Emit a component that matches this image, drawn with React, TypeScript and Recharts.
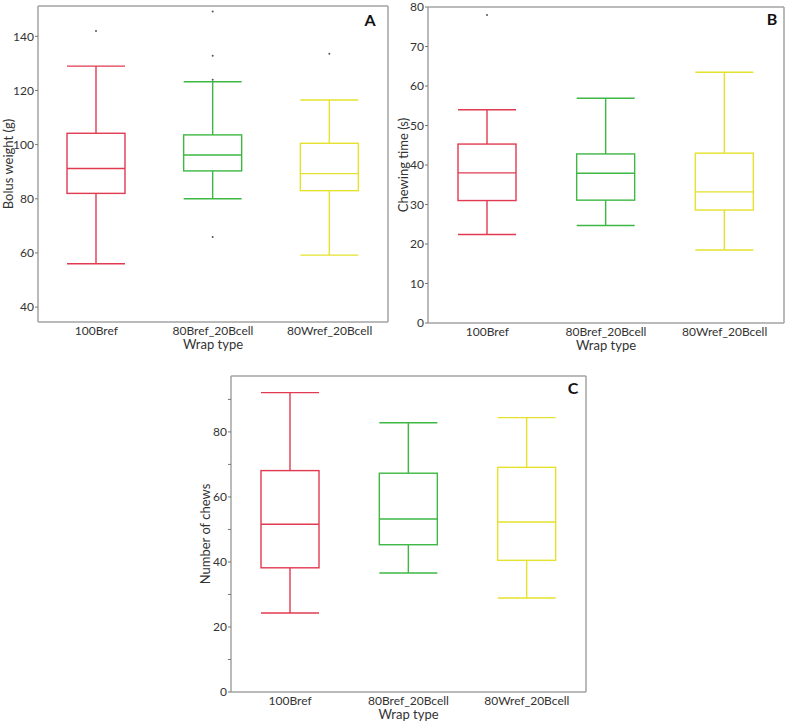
import React from 'react';
import { ComposedChart, Bar, XAxis, YAxis, CartesianGrid } from 'recharts';

// Wrap types on the x axis and their box colours
const categories = ['100Bref', '80Bref_20Bcell', '80Wref_20Bcell'];
const boxColors = ['#e23a50', '#3cb843', '#e4e22c'];

// A: bolus weight (g)
const weightLow = [56, 80, 59.2];
const weightQ1 = [82, 90.3, 83];
const weightMedian = [91.2, 96.2, 89.3];
const weightQ3 = [104.2, 103.6, 100.5];
const weightHigh = [129, 123.2, 116.5];
const weightOutliers = [[142], [149.2, 132.8, 124, 65.9], [133.6]];
const weightTicks = [40, 60, 80, 100, 120, 140];

// B: chewing time (s)
const timeLow = [22.4, 24.7, 18.5];
const timeQ1 = [31, 31.1, 28.6];
const timeMedian = [38, 37.9, 33.2];
const timeQ3 = [45.3, 42.8, 43];
const timeHigh = [54, 56.9, 63.5];
const timeOutliers = [[78], [], []];
const timeTicks = [0, 10, 20, 30, 40, 50, 60, 70, 80];

// C: number of chews
const chewsLow = [24.3, 36.6, 28.9];
const chewsQ1 = [38.2, 45.3, 40.5];
const chewsMedian = [51.6, 53.2, 52.3];
const chewsQ3 = [68.1, 67.3, 69.1];
const chewsHigh = [92.1, 82.8, 84.4];
const chewsOutliers = [[], [], []];
const chewsTicks = [0, 10, 20, 30, 40, 50, 60, 70, 80, 90];
const chewsLabelled = [0, 20, 40, 60, 80];

const FONT = 'Lato, "Noto Sans", sans-serif';
const FRAME = '#a3a3a3';

type Row = {
  name: string;
  range: [number, number];
  q1: number;
  median: number;
  q3: number;
  outliers: number[];
  color: string;
};

const buildRows = (
  low: number[],
  q1: number[],
  median: number[],
  q3: number[],
  high: number[],
  outliers: number[][]
): Row[] =>
  categories.map((name, i) => ({
    name,
    range: [low[i], high[i]],
    q1: q1[i],
    median: median[i],
    q3: q3[i],
    outliers: outliers[i],
    color: boxColors[i],
  }));

// Whisker-to-whisker range bar, with the box, median and outliers drawn inside it
const BoxShape = (props: any) => {
  const { x, y, width, height, payload } = props;
  if (!payload) return null;
  const [lo, hi] = payload.range;
  const top = Math.min(y, y + height);
  const bottom = Math.max(y, y + height);
  const toY = (v: number) => bottom - ((v - lo) / (hi - lo)) * (bottom - top);
  const cx = x + width / 2;
  const c = payload.color;
  const sw = 1.4;
  return (
    <g>
      <line x1={cx} x2={cx} y1={toY(hi)} y2={toY(payload.q3)} stroke={c} strokeWidth={sw} />
      <line x1={cx} x2={cx} y1={toY(payload.q1)} y2={toY(lo)} stroke={c} strokeWidth={sw} />
      <line x1={x} x2={x + width} y1={toY(hi)} y2={toY(hi)} stroke={c} strokeWidth={sw} />
      <line x1={x} x2={x + width} y1={toY(lo)} y2={toY(lo)} stroke={c} strokeWidth={sw} />
      <rect
        x={x}
        y={toY(payload.q3)}
        width={width}
        height={toY(payload.q1) - toY(payload.q3)}
        fill="none"
        stroke={c}
        strokeWidth={sw}
      />
      <line x1={x} x2={x + width} y1={toY(payload.median)} y2={toY(payload.median)} stroke={c} strokeWidth={sw} />
      {payload.outliers.map((v: number, k: number) => (
        <circle key={k} cx={cx} cy={toY(v)} r={1} fill="#555" />
      ))}
    </g>
  );
};

type PanelProps = {
  left: number;
  top: number;
  width: number;
  height: number;
  margin: { top: number; right: number; bottom: number; left: number };
  axisWidth: number;
  domain: [number, number];
  ticks: number[];
  labelled?: number[];
  yLabel: string;
  labelOffset: number;
  letter: string;
  letterPos: { x: number; y: number };
  rows: Row[];
};

function BoxPanel(p: PanelProps) {
  const tickStyle = { fontSize: 12, fill: '#333', fontFamily: FONT };
  const titleStyle = { fontSize: 13, fill: '#333', fontFamily: FONT };
  return (
    <div style={{ position: 'absolute', left: p.left, top: p.top, width: p.width, height: p.height }}>
      <ComposedChart width={p.width} height={p.height} data={p.rows} margin={p.margin}>
        {/* top and right edges of the plot frame */}
        <CartesianGrid
          stroke={FRAME}
          strokeWidth={1.5}
          horizontalCoordinatesGenerator={({ offset }: any) => [offset.top]}
          verticalCoordinatesGenerator={({ offset }: any) => [offset.left + offset.width]}
        />
        <XAxis
          dataKey="name"
          type="category"
          tickLine={false}
          tickSize={0}
          tickMargin={4}
          tick={tickStyle}
          axisLine={{ stroke: FRAME, strokeWidth: 1.5 }}
          height={p.height - p.margin.top - p.margin.bottom - 316}
          label={{ value: 'Wrap type', position: 'insideTop', offset: 18, style: titleStyle }}
        />
        <YAxis
          type="number"
          domain={p.domain}
          ticks={p.ticks}
          interval={0}
          allowDataOverflow
          width={p.axisWidth}
          tickSize={3}
          tickMargin={1}
          tick={tickStyle}
          tickFormatter={(v: number) => (p.labelled && !p.labelled.includes(v) ? '' : String(v))}
          tickLine={{ stroke: '#777' }}
          axisLine={{ stroke: FRAME, strokeWidth: 1.5 }}
          label={{
            value: p.yLabel,
            angle: -90,
            position: 'insideLeft',
            offset: p.labelOffset,
            style: { ...titleStyle, textAnchor: 'middle' },
          }}
        />
        <Bar dataKey="range" barSize={58} shape={<BoxShape />} isAnimationActive={false} />
      </ComposedChart>
      <div
        style={{
          position: 'absolute',
          left: p.letterPos.x,
          top: p.letterPos.y,
          fontFamily: FONT,
          fontWeight: 700,
          fontSize: 16,
          lineHeight: '16px',
          color: '#111',
          transform: 'translate(-50%, -50%)',
        }}
      >
        {p.letter}
      </div>
    </div>
  );
}

export default function App() {
  return (
    <div style={{ position: 'absolute', left: 0, top: 0, width: 786, height: 725, background: '#fff' }}>
      <BoxPanel
        left={0}
        top={0}
        width={390}
        height={360}
        margin={{ top: 6, right: 2, bottom: 3, left: 0 }}
        axisWidth={38}
        domain={[34.5, 151.2]}
        ticks={weightTicks}
        yLabel="Bolus weight (g)"
        labelOffset={8}
        letter="A"
        letterPos={{ x: 370, y: 20 }}
        rows={buildRows(weightLow, weightQ1, weightMedian, weightQ3, weightHigh, weightOutliers)}
      />
      <BoxPanel
        left={390}
        top={0}
        width={396}
        height={360}
        margin={{ top: 7, right: 2, bottom: 3, left: 0 }}
        axisWidth={38}
        domain={[0, 80]}
        ticks={timeTicks}
        yLabel="Chewing time (s)"
        labelOffset={13}
        letter="B"
        letterPos={{ x: 382, y: 19 }}
        rows={buildRows(timeLow, timeQ1, timeMedian, timeQ3, timeHigh, timeOutliers)}
      />
      <BoxPanel
        left={190}
        top={370}
        width={398}
        height={355}
        margin={{ top: 6, right: 2, bottom: 0, left: 0 }}
        axisWidth={41}
        domain={[0, 97.2]}
        ticks={chewsTicks}
        labelled={chewsLabelled}
        yLabel="Number of chews"
        labelOffset={15}
        letter="C"
        letterPos={{ x: 383, y: 18 }}
        rows={buildRows(chewsLow, chewsQ1, chewsMedian, chewsQ3, chewsHigh, chewsOutliers)}
      />
    </div>
  );
}
